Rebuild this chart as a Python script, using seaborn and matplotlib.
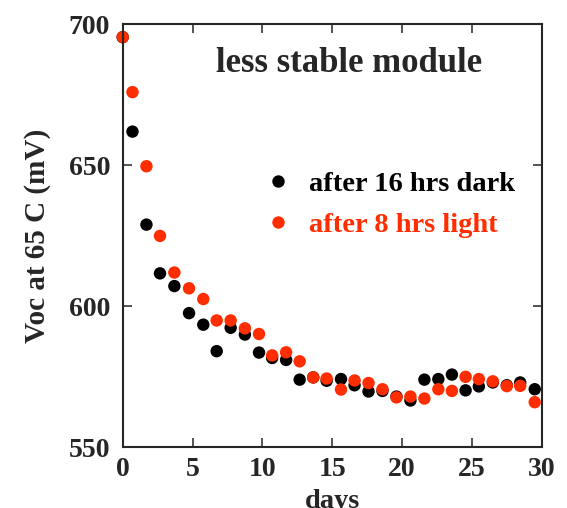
import matplotlib
matplotlib.use("Agg")
import matplotlib.pyplot as plt
import seaborn as sns
import pandas as pd

days = [0, 0.7, 1.7, 2.67, 3.7, 4.75, 5.77, 6.73, 7.73, 8.75, 9.76, 10.7, 11.7, 12.67,
        13.64, 14.6, 15.63, 16.6, 17.6, 18.6, 19.6, 20.6, 21.6, 22.6, 23.57, 24.55,
        25.5, 26.5, 27.5, 28.46, 29.5]
voc_dark = [695.5, 662, 629, 611.7, 607.2, 597.6, 593.5, 584.1, 592.4, 590, 583.6, 581.7,
            581, 574, 574.8, 573.6, 574.2, 572, 569.8, 570, 568, 566.6, 574, 574.2, 575.8,
            570.2, 571.6, 573, 572, 573, 570.6]
voc_light = [695.5, 676, 649.7, 625, 612, 606.4, 602.6, 595, 595, 592.2, 590.2, 582.6,
             583.7, 580.5, 574.8, 574.4, 570.5, 573.7, 572.8, 570.6, 567.7, 568, 567.3,
             570.6, 570, 575, 574.2, 573.4, 571.7, 571.8, 566]
series = ["after 16 hrs dark", "after 8 hrs light"]
colors = ["#000000", "#ff2d00"]

df = pd.concat([
    pd.DataFrame({"days": days, "voc": voc_dark, "series": series[0]}),
    pd.DataFrame({"days": days, "voc": voc_light, "series": series[1]}),
], ignore_index=True)

sns.set_style("ticks")
plt.rcParams["font.family"] = ["Liberation Serif", "DejaVu Serif"]
plt.rcParams["font.weight"] = "bold"

fig = plt.figure(figsize=(5.67, 5.08), dpi=100)
ax = fig.add_axes([0.2164, 0.1195, 0.7390, 0.8323])

sns.scatterplot(data=df, x="days", y="voc", hue="series", hue_order=series,
                palette=colors, s=80, linewidth=0, ax=ax, legend=True, clip_on=False)

ax.set_xlim(0, 30)
ax.set_ylim(550, 700)
ax.set_xticks([0, 5, 10, 15, 20, 25, 30])
ax.set_yticks([550, 600, 650, 700])
ax.tick_params(direction="in", length=6.5, width=1.1, top=True, right=True,
               labelsize=20, pad=7)
ax.tick_params(axis="y", pad=9)
for lab in ax.get_xticklabels() + ax.get_yticklabels():
    lab.set_fontweight("bold")
for sp in ax.spines.values():
    sp.set_linewidth(1.5)
    sp.set_visible(True)

ax.set_xlabel("days", fontsize=20.5, fontweight="bold", labelpad=5)
ax.set_ylabel("Voc at 65 C (mV)", fontsize=21, fontweight="bold", labelpad=13)

ax.text(0.541, 0.888, "less stable module", transform=ax.transAxes, ha="center",
        va="baseline", fontsize=25, fontweight="bold")

handles, labels = ax.get_legend_handles_labels()
leg = ax.legend(handles, labels, loc="upper left", bbox_to_anchor=(0.309, 0.68),
                frameon=False, fontsize=20.5, labelcolor=colors, handlelength=1.0,
                handletextpad=0.59, labelspacing=0.53, markerscale=1.0, borderaxespad=0)
for t in leg.get_texts():
    t.set_fontweight("bold")

fig.savefig("out.png", dpi=100)
